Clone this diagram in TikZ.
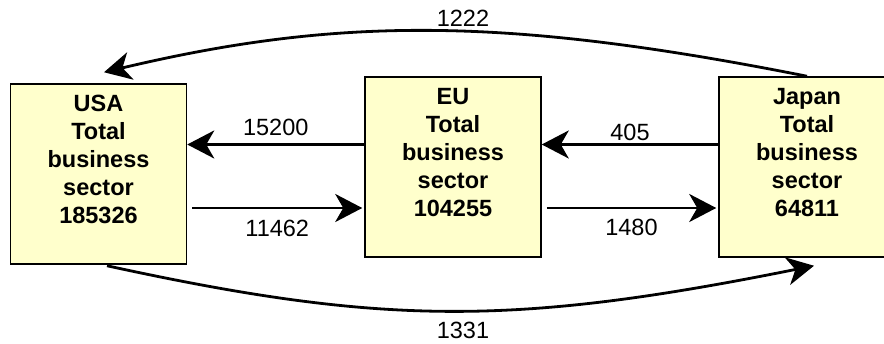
\documentclass[tikz,border=0pt]{standalone}
\usepackage{fontspec}
\setmainfont{Liberation Sans}
\usetikzlibrary{arrows.meta,calc}
\definecolor{boxfill}{HTML}{FFFFCC}
\tikzset{
  sector/.style={draw=black, line width=1.5pt, fill=boxfill,
    minimum width=176pt, minimum height=180pt, inner sep=0pt},
  sectortext/.style={font=\fontsize{23.5}{28}\selectfont\bfseries,
    align=center, anchor=north, inner sep=0pt},
  flow/.style={line width=2.8pt,
    -{Stealth[length=27pt, width=28pt, inset=8pt]}},
  amount/.style={font=\fontsize{23.5}{28}\selectfont, inner sep=0pt}
}
\begin{document}
\begin{tikzpicture}[x=1pt, y=-1pt]
  \useasboundingbox (0,0) rectangle (884,344);
  \clip (0,0) rectangle (884,344);

  % the three business sectors
  \node[sector] (usa) at (98.5,174) {};
  \node[sector] (eu)  at (453,167) {};
  \node[sector] (jp)  at (807,167) {};
  \node[sectortext] (usa-t) at ($(usa.north)+(0,11.5)$) {USA\\Total\\business\\sector\\185326};
  \node[sectortext] (eu-t)  at ($(eu.north)+(0,12)$) {EU\\Total\\business\\sector\\104255};
  \node[sectortext] (jp-t)  at ($(jp.north)+(0,12)$) {Japan\\Total\\business\\sector\\64811};

  % levels of the straight flows
  \coordinate (upper) at (0,144.5);
  \coordinate (lower) at (0,208);

  % EU -> USA and USA -> EU
  \draw[flow] (eu.west |- upper) -- (usa.east |- upper)
    node[amount, midway, yshift=17pt] (f1) {15200};
  \draw[flow] ($(usa.east |- lower)+(5,0)$) -- ($(eu.west |- lower)+(-2,0)$)
    node[amount, midway, yshift=-20pt] (f2) {11462};

  % Japan -> EU and EU -> Japan
  \draw[flow] (jp.west |- upper) -- (eu.east |- upper)
    node[amount, midway, yshift=12.5pt] (f3) {405};
  \draw[flow] ($(eu.east |- lower)+(5,0)$) -- ($(jp.west |- lower)+(-2,0)$)
    node[amount, midway, yshift=-19pt] (f4) {1480};

  % Japan -> USA over the top, USA -> Japan underneath
  \coordinate (usa-in)  at ($(usa.north)+(5.5,-11)$);
  \coordinate (jp-in)   at ($(jp.south)+(7,8)$);
  \coordinate (usa-out) at ($(usa.south)+(8.5,1)$);
  \draw[flow] (jp.north) .. controls (506,16.5) and (339,16.5) .. (usa-in);
  \draw[flow] (usa-out) .. controls (384,326) and (514,326) .. (jp-in);
  \node[amount] (f5) at (463,18) {1222};
  \node[amount] (f6) at (463,330) {1331};
\end{tikzpicture}
\end{document}
